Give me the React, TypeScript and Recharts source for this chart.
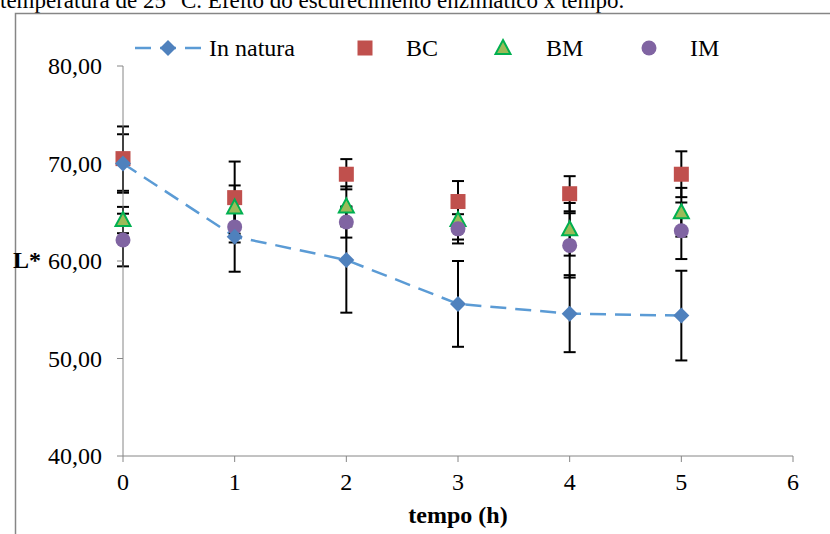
import { ComposedChart, Line, Scatter, XAxis, YAxis, ErrorBar, Legend } from 'recharts';

const hours = [0, 1, 2, 3, 4, 5];
const inNatura = [70.0, 62.5, 60.1, 55.6, 54.6, 54.4];
const inNaturaErr = [3.0, 3.6, 5.4, 4.4, 3.95, 4.6];
const bc = [70.5, 66.5, 68.9, 66.1, 66.9, 68.9];
const bcErr = [3.3, 3.7, 1.55, 2.1, 1.8, 2.35];
const bm = [64.2, 65.5, 65.6, 64.2, 63.25, 65.0];
const bmErr = [1.35, 2.25, 2.05, 2.0, 2.7, 2.5];
const im = [62.15, 63.5, 64.0, 63.3, 61.6, 63.1];
const imErr = [2.7, 1.6, 1.6, 1.5, 3.3, 2.9];

const xTicks = [0, 1, 2, 3, 4, 5, 6];
const yTicks = [40, 50, 60, 70, 80];

const data = hours.map((t, i) => ({
  t,
  natura: inNatura[i],
  naturaErr: inNaturaErr[i],
  bc: bc[i],
  bcErr: bcErr[i],
  bm: bm[i],
  bmErr: bmErr[i],
  im: im[i],
  imErr: imErr[i],
}));

const FONT = '"Liberation Serif", "Times New Roman", serif';
const BLUE_LINE = '#5B9BD5';
const BLUE = '#4F81BD';
const RED = '#C0504D';
const GREEN = '#9BBB59';
const GREEN_EDGE = '#00B050';
const PURPLE = '#8064A2';
const AXIS = '#868686';

const Diamond = ({ cx, cy, index }: any) => (
  <path key={'d' + index} d={`M${cx},${cy - 8}L${cx + 8},${cy}L${cx},${cy + 8}L${cx - 8},${cy}Z`} fill={BLUE} />
);
const Square = ({ cx, cy }: any) => <rect x={cx - 7.5} y={cy - 7.5} width={15} height={15} fill={RED} />;
const Triangle = ({ cx, cy }: any) => (
  <path d={`M${cx},${cy - 8}L${cx + 7.5},${cy + 6}L${cx - 7.5},${cy + 6}Z`} fill={GREEN} stroke={GREEN_EDGE} strokeWidth={2} />
);
const Dot = ({ cx, cy }: any) => <circle cx={cx} cy={cy} r={7.5} fill={PURPLE} />;

// legend item placement (icon centre, text start)
const legendItems = [
  { key: 'In natura', icon: 168, text: 209 },
  { key: 'BC', icon: 365, text: 406 },
  { key: 'BM', icon: 503, text: 546 },
  { key: 'IM', icon: 649, text: 690 },
];

const LegendContent = () => (
  <svg width={830} height={40} style={{ display: 'block' }}>
    {legendItems.map((it) => {
      const cy = 18;
      let icon;
      if (it.key === 'In natura') {
        icon = (
          <g>
            <line x1={133} x2={203} y1={cy} y2={cy} stroke={BLUE_LINE} strokeWidth={2.5} strokeDasharray="16 9" strokeDashoffset={-2} />
            <Diamond cx={it.icon} cy={cy} />
          </g>
        );
      } else if (it.key === 'BC') icon = <Square cx={it.icon} cy={cy} />;
      else if (it.key === 'BM') icon = <Triangle cx={it.icon} cy={cy} />;
      else icon = <Dot cx={it.icon} cy={cy} />;
      return (
        <g key={it.key}>
          {icon}
          <text x={it.text} y={cy + 8} fontSize={24} fontFamily={FONT} fill="#000">
            {it.key}
          </text>
        </g>
      );
    })}
  </svg>
);

const fmt = (v: number) => v.toFixed(2).replace('.', ',');

const XTick = ({ x, y, payload }: any) => (
  <text x={x} y={y + 22} textAnchor="middle" fontSize={24} fontFamily={FONT} fill="#000">
    {payload.value}
  </text>
);
const YTick = ({ x, y, payload }: any) => (
  <text x={x} y={y + 8} textAnchor="end" fontSize={24} fontFamily={FONT} fill="#000">
    {fmt(payload.value)}
  </text>
);

export default function App() {
  return (
    <div style={{ position: 'relative', width: 830, height: 534, overflow: 'hidden', background: '#fff', fontFamily: FONT }}>
      <style>{'body{margin:0}'}</style>
      <svg width={830} height={534} style={{ position: 'absolute', left: 0, top: 0 }}>
        <text x={0} y={8} fontSize={23} fontFamily={FONT} fill="#000">
          temperatura de 25 °C. Efeito do escurecimento enzimático x tempo.
        </text>
        <path d="M15.5,534V13.5H830" fill="none" stroke={AXIS} strokeWidth={1.5} />
      </svg>
      <div style={{ position: 'absolute', left: 0, top: 0 }}>
        <ComposedChart
          width={830}
          height={534}
          data={data}
          margin={{ top: 66, right: 37, bottom: 48, left: 0 }}
          style={{ fontFamily: FONT }}
        >
          <XAxis
            dataKey="t"
            type="number"
            domain={[0, 6]}
            ticks={xTicks}
            height={30}
            tickSize={6}
            tickMargin={6}
            stroke={AXIS}
            tick={XTick}
            label={(p: any) => (
              <text x={p.viewBox.x + p.viewBox.width / 2} y={523} textAnchor="middle" fontSize={24} fontWeight="bold" fontFamily={FONT} fill="#000">
                tempo (h)
              </text>
            )}
          />
          <YAxis
            type="number"
            domain={[40, 80]}
            ticks={yTicks}
            width={123}
            tickSize={6}
            tickMargin={15}
            stroke={AXIS}
            tick={YTick}
            label={() => (
              <text x={13} y={268} fontSize={24} fontWeight="bold" fontFamily={FONT} fill="#000">
                L*
              </text>
            )}
          />
          <Legend verticalAlign="middle" align="center" layout="horizontal" wrapperStyle={{ top: 30, left: 0, width: 830 }} content={LegendContent} />
          <Line
            name="In natura"
            dataKey="natura"
            stroke={BLUE_LINE}
            strokeWidth={2.5}
            strokeDasharray="16 9"
            dot={Diamond}
            activeDot={false}
            isAnimationActive={false}
          >
            <ErrorBar dataKey="naturaErr" direction="y" width={6} stroke="#000" strokeWidth={2} />
          </Line>
          <Scatter name="BC" dataKey="bc" shape={Square} isAnimationActive={false}>
            <ErrorBar dataKey="bcErr" direction="y" width={6} stroke="#000" strokeWidth={2} />
          </Scatter>
          <Scatter name="BM" dataKey="bm" shape={Triangle} isAnimationActive={false}>
            <ErrorBar dataKey="bmErr" direction="y" width={6} stroke="#000" strokeWidth={2} />
          </Scatter>
          <Scatter name="IM" dataKey="im" shape={Dot} isAnimationActive={false}>
            <ErrorBar dataKey="imErr" direction="y" width={6} stroke="#000" strokeWidth={2} />
          </Scatter>
        </ComposedChart>
      </div>
    </div>
  );
}
